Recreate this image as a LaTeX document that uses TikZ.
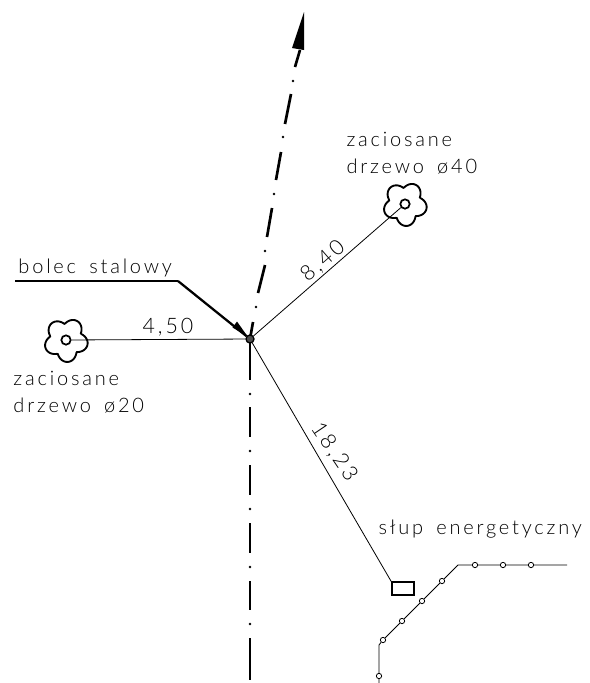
\documentclass[tikz,border=0pt]{standalone}
\usepackage{fontspec}
\setmainfont[LetterSpace=14,WordSpace=1.6]{Lato Light}
\usetikzlibrary{arrows.meta}
\tikzset{every picture/.style={line width=0.75pt}}
\tikzset{
  thinline/.style={line width=0.6pt},
  thickline/.style={line width=1.3pt},
  axisline/.style={line width=2pt},
  dotmark/.style={circle,fill=black,inner sep=0pt,minimum size=2.2pt},
  wiremark/.style={circle,draw,fill=white,line width=0.6pt,inner sep=0pt,minimum size=4pt},
  treemark/.style={circle,draw,fill=white,line width=1.3pt,inner sep=0pt,minimum size=7pt},
  caption/.style={inner sep=0pt,font=\fontsize{15}{20}\selectfont,align=left,anchor=west},
  dimlabel/.style={inner sep=0pt,font=\fontsize{16}{18}\selectfont}
}
\newcommand{\treeoutline}[3]{%
  \draw [line width=1.4pt] plot [smooth cycle,domain=0:357,samples=120] ({#1+(16+6*abs(cos(2.5*(\x-#3))))*cos(\x)},{#2+(16+6*abs(cos(2.5*(\x-#3))))*sin(\x)});}

\begin{document}
\begin{tikzpicture}[x=0.75pt,y=0.75pt,yscale=-1,xscale=1]
\useasboundingbox (0,0) rectangle (590,683);

%Axis, upper part
\draw [axisline] (253,322) -- (250,339);
\draw [axisline] (265,265) -- (258,293);
\node [dotmark] (dot1) at (256,307) {};
\draw [axisline] (272,208) -- (267,237);
\node [dotmark] (dot2) at (274,194) {};
\node [dotmark] (dot3) at (265,251) {};
\draw [axisline] (281,152) -- (276,180);
\node [dotmark] (dot4) at (283,137) {};
\draw [axisline] (291,94) -- (285,124);
\node [dotmark] (dot5) at (293,81) {};
\draw [axisline] (300,50) -- (295,67);
\fill (304,12) -- (292,48) -- (304,50) -- cycle;

%Axis, lower part
\draw [axisline] (250,339) -- (250,380);
\node [dotmark] (dot6) at (250,394) {};
\draw [axisline] (250,407) -- (250,437);
\node [dotmark] (dot7) at (250,451) {};
\draw [axisline] (250,465) -- (250,495);
\node [dotmark] (dot8) at (250,509) {};
\draw [axisline] (250,523) -- (250,553);
\node [dotmark] (dot9) at (250,567) {};
\draw [axisline] (250,581) -- (250,610);
\node [dotmark] (dot10) at (250,624) {};
\draw [axisline] (250,638) -- (250,680);

%Trees
\treeoutline{66}{340}{85}
\treeoutline{405}{204}{85}
\node [treemark] (treeleft) at (66,340) {};
\node [treemark] (treeright) at (405,204) {};
\node [circle,draw,fill=black!70,line width=1pt,inner sep=0pt,minimum size=6pt] (hub) at (250,339) {};
\node [draw,line width=1.3pt,inner sep=0pt,minimum width=16.5pt,minimum height=9.5pt] (pole) at (403,588.5) {};

%Distance lines
\draw [thinline] (treeleft) -- (hub);
\draw [thinline] (treeright) -- (hub);
\draw [thinline] (hub) -- (pole.north west);

%Leader
\coordinate (leaderstart) at (15,281);
\coordinate (leaderknee) at (178,281);
\draw [thickline] (leaderstart) -- (leaderknee);
\draw [line width=1.7pt] (leaderknee) -- (hub);
\fill (248,337) -- (232.5,327.5) -- (237,321.5) -- cycle;

%Wire
\coordinate (wireend) at (567,565);
\coordinate (wireknee) at (458,565);
\coordinate (wirebend) at (379,645);
\coordinate (wirefoot) at (379,683);
\node [wiremark] (w1) at (531,565) {};
\node [wiremark] (w2) at (503,565) {};
\node [wiremark] (w3) at (475,565) {};
\node [wiremark] (w4) at (442,581) {};
\node [wiremark] (w5) at (422,601) {};
\node [wiremark] (w6) at (402,621) {};
\node [wiremark] (w7) at (383,640) {};
\node [wiremark] (w8) at (379,676) {};
\draw [thinline] (wireend) -- (w1) -- (w2) -- (w3) -- (wireknee) -- (w4) -- (w5) -- (w6) -- (w7) -- (wirebend) -- (w8) -- (wirefoot);

% Text Node
\node [caption] (leadertext) at (18,268) {bolec stalowy};
% Text Node
\node [caption] (textright) at (346,153) {zaciosane\\drzewo ø40};
% Text Node
\node [caption] (textleft) at (13,392) {zaciosane\\drzewo ø20};
% Text Node
\node [caption] (textpole) at (378,529) {słup energetyczny};
% Text Node
\node [dimlabel] (dimleft) at (168,327) {4,50};
% Text Node
\node [dimlabel,rotate=41] (dimright) at (323,261) {8,40};
% Text Node
\node [dimlabel,rotate=-56] (dimpole) at (334,452) {18,23};
\end{tikzpicture}
\end{document}
